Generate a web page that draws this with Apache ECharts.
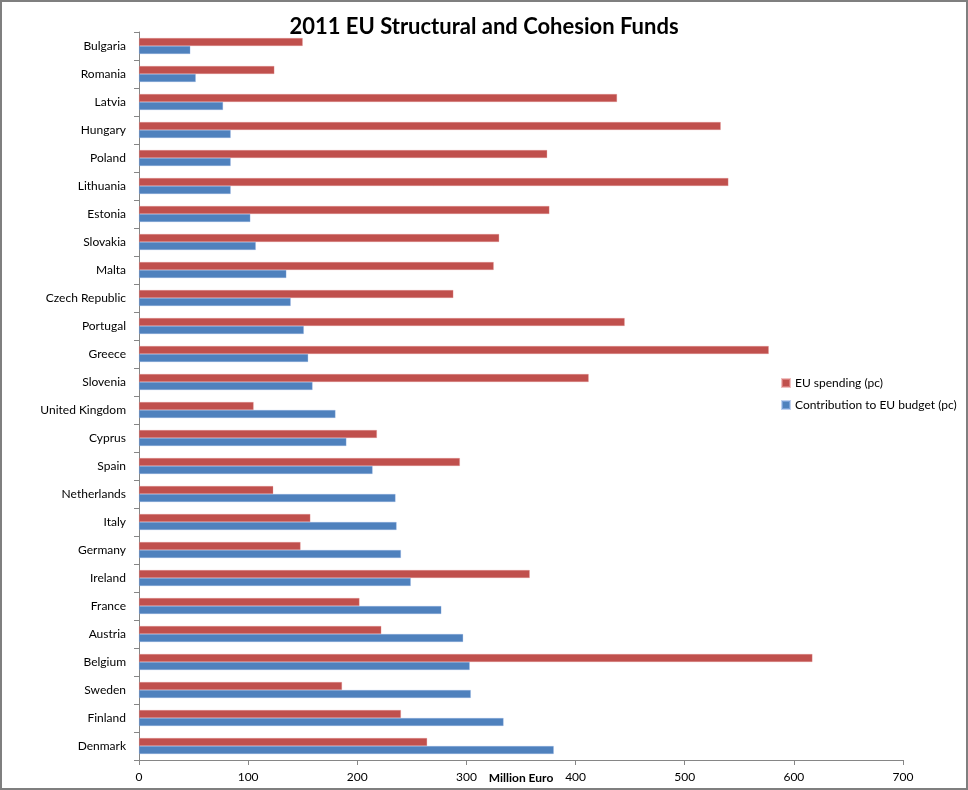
<!DOCTYPE html>
<html>
<head>
<meta charset="utf-8">
<script src="https://cdn.jsdelivr.net/npm/echarts@6/dist/echarts.min.js"></script>
<style>
html,body{margin:0;padding:0;background:#fff;}
#chart{width:968px;height:790px;}
</style>
</head>
<body>
<div id="chart"></div>
<script>
const countries = ["Bulgaria","Romania","Latvia","Hungary","Poland","Lithuania","Estonia","Slovakia","Malta","Czech Republic","Portugal","Greece","Slovenia","United Kingdom","Cyprus","Spain","Netherlands","Italy","Germany","Ireland","France","Austria","Belgium","Sweden","Finland","Denmark"];
const euSpending = [150,124,438,533,374,540,376,330,325,288,445,577,412,105,218,294,123,157,148,358,202,222,617,186,240,264];
const contribution = [47,52,77,84,84,84,102,107,135,139,151,155,159,180,190,214,235,236,240,249,277,297,303,304,334,380];
const xTicks = {min:0, max:700, interval:100};

const chart = echarts.init(document.getElementById('chart'));
const font = 'Lato, "Open Sans", sans-serif';
chart.setOption({
  animation:false,
  backgroundColor:'#fff',
  title:{text:'2011 EU Structural and Cohesion Funds', left:'center', top:11,
    textStyle:{fontFamily:font, fontSize:22, fontWeight:'bold', color:'#000'}},
  legend:{orient:'vertical', left:776, top:372, itemWidth:8, itemHeight:8, itemGap:10,
    icon:'rect', textStyle:{fontFamily:font, fontSize:12, color:'#000'},
    data:['EU spending (pc)','Contribution to EU budget (pc)']},
  grid:{left:139, right:65, top:32, bottom:30, containLabel:false, outerBoundsMode:'none'},
  xAxis:{type:'value', min:xTicks.min, max:xTicks.max, interval:xTicks.interval,
    name:'Million Euro', nameLocation:'middle', nameGap:12, nameMoveOverlap:false,
    nameTextStyle:{fontFamily:font, fontSize:12, fontWeight:'bold', color:'#000', verticalAlign:'top'},
    axisLine:{show:true, lineStyle:{color:'#868686'}},
    axisTick:{show:true, length:5, lineStyle:{color:'#868686'}},
    splitLine:{show:false},
    axisLabel:{fontFamily:font, fontSize:12, color:'#000', margin:11}},
  yAxis:{type:'category', data:countries, inverse:true,
    axisLine:{lineStyle:{color:'#868686'}},
    axisTick:{show:true, length:5, lineStyle:{color:'#868686'}},
    axisLabel:{fontFamily:font, fontSize:12, color:'#000', margin:13}},
  series:[
    {name:'EU spending (pc)', type:'bar', data:euSpending, barWidth:8, barGap:'0%',
     itemStyle:{color:'#C0504D', borderColor:'rgba(230,150,150,0.6)', borderWidth:0.5}},
    {name:'Contribution to EU budget (pc)', type:'bar', data:contribution, barWidth:8, barGap:'0%',
     itemStyle:{color:'#4F81BD', borderColor:'rgba(150,180,230,0.6)', borderWidth:0.5}}
  ],
  graphic:[{type:'rect', shape:{x:1, y:1, width:966, height:788},
    style:{fill:'none', stroke:'#7f7f7f', lineWidth:2}, silent:true}]
});
</script>
</body>
</html>
